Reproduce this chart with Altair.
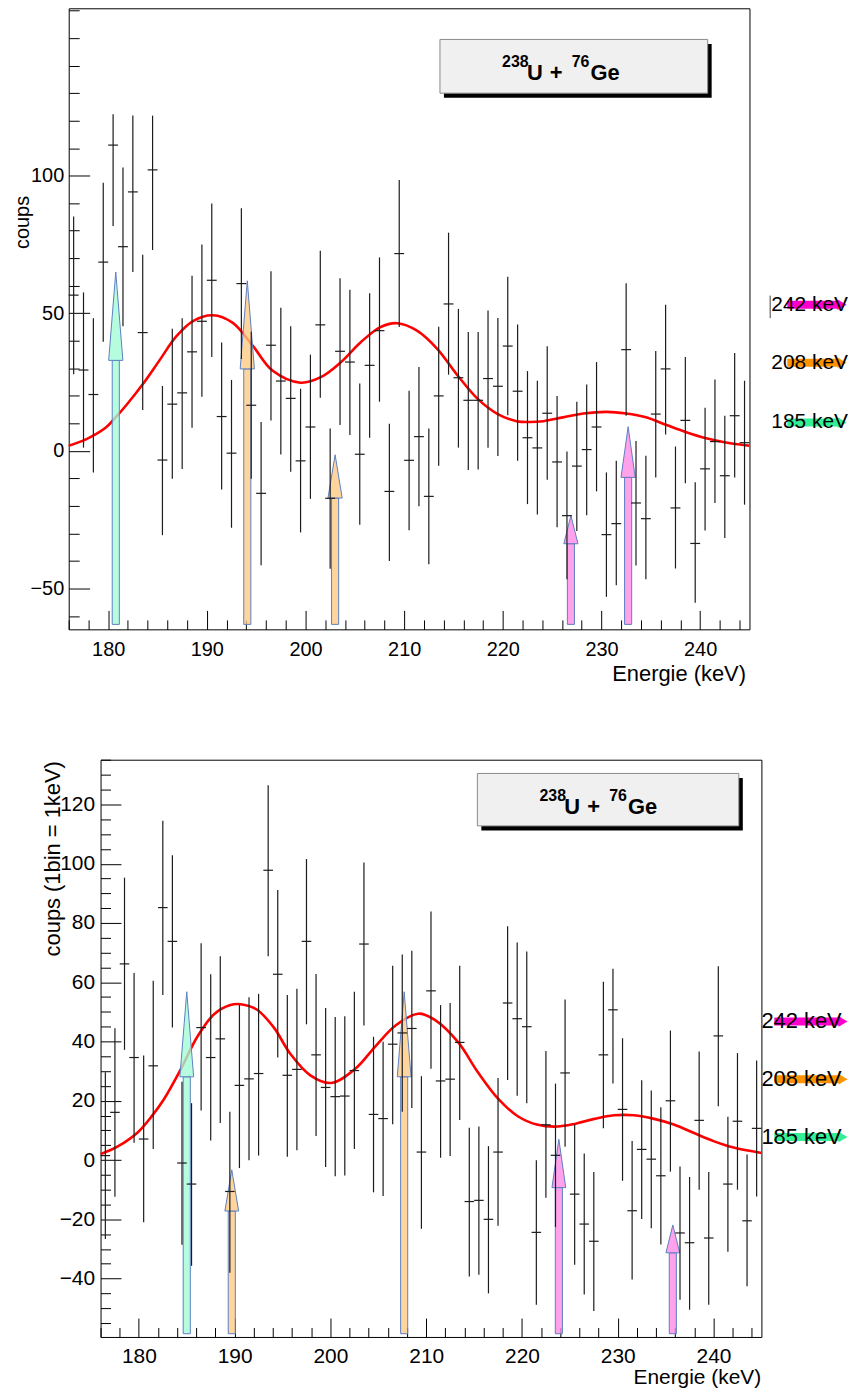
import altair as alt
import pandas as pd

FONT = "Liberation Sans"

# ---------------- data ----------------
# 1 keV bins, 176 .. 245 keV
BIN_FIRST_CENTER = 176.5
N_BINS = 69
bin_centers = [BIN_FIRST_CENTER + i for i in range(N_BINS)]

# upper spectrum: counts, upper and lower end of error bar
top_val = [56.6, 29.4, 20.5, 68.6, 111.1, 74.2, 94.1, 43.0, 102.1, -3.3,
           17.0, 21.1, 36.0, 47.1, 62.0, 12.5, -0.8, 60.8, 16.6, -15.4,
           38.4, 25.4, 19.1, -3.6, 8.7, 45.8, -17.2, 36.2, 32.3, -1.2,
           31.1, 43.7, -14.7, 71.7, -3.4, 5.2, -16.5, 20.0, 53.4, 26.6,
           18.4, 18.4, 26.3, 23.5, 38.1, 21.7, 4.8, 1.1, 13.7, -4.0,
           -23.5, -5.5, 0.5, 8.7, -30.4, -26.4, 36.8, -18.9, -24.6, 13.4,
           29.8, -20.7, 11.1, -33.6, -6.5, 3.4, -9.0, 12.8, 3.0]
top_hi = [85.2, 57.6, 48.2, 97.4, 122.3, 103.0, 121.9, 71.3, 121.8, 23.6,
          44.4, 48.2, 63.6, 75.0, 89.9, 39.4, 25.8, 88.2, 43.3, 10.5,
          65.3, 52.0, 45.3, 22.6, 35.0, 72.7, 8.2, 62.7, 58.6, 24.5,
          57.3, 70.3, 9.9, 98.4, 21.9, 30.5, 8.2, 45.1, 79.3, 51.6,
          43.2, 43.2, 51.0, 48.3, 63.3, 45.9, 29.0, 25.5, 38.0, 20.0,
          -0.2, 17.9, 24.1, 32.3, -7.8, -3.6, 60.9, 3.6, -1.7, 36.3,
          53.1, 1.6, 34.1, -11.4, 15.7, 26.0, 12.8, 35.6, 25.5]
top_lo = [27.9, 1.2, -7.8, 39.7, 81.7, 45.3, 65.0, 14.9, 73.0, -30.6,
          -10.1, -6.6, 8.4, 19.7, 34.1, -14.0, -27.9, 33.4, -10.1, -41.5,
          11.1, -1.3, -7.6, -29.6, -17.4, 19.3, -42.8, 9.4, 5.8, -26.8,
          4.8, 17.9, -40.0, 45.0, -28.8, -20.1, -41.2, -5.4, 27.7, 1.2,
          -6.9, -6.7, 1.2, -1.8, 13.0, -3.6, -19.3, -23.1, -10.5, -27.7,
          -46.6, -29.1, -23.4, -14.7, -53.0, -48.8, 12.8, -41.6, -46.6, -9.6,
          6.0, -42.7, -11.7, -55.1, -28.9, -18.9, -31.6, -9.6, -19.5]

# lower spectrum
bot_val = [1.5, 16.1, 66.2, 34.6, 7.1, 31.8, 85.2, 73.8, -1.0, -8.1,
           44.7, 34.6, 40.9, -10.6, 25.2, 27.4, 29.2, 97.8, 62.7, 28.6,
           30.6, 73.8, 35.5, 24.5, 21.4, 21.6, 30.2, 72.9, 15.4, 14.0,
           39.1, 42.9, 44.4, 2.7, 57.1, 26.7, 27.3, 39.7, -14.0, -13.6,
           -20.0, 2.7, 53.0, 47.7, 45.0, -24.4, 11.9, 1.6, 29.4, -11.5,
           -21.6, -27.4, 35.5, 50.7, 17.1, -17.1, 3.6, 0.3, -5.3, 20.0,
           -24.6, -27.9, 13.4, -26.3, 41.9, -8.1, 13.1, -20.5, 10.7]
bot_hi = [29.6, 44.5, 95.3, 63.1, 35.3, 60.5, 114.5, 102.9, 26.4, 19.2,
          73.2, 62.7, 68.8, 16.3, 52.3, 54.9, 56.1, 126.5, 91.1, 55.7,
          57.8, 101.6, 62.8, 51.3, 48.3, 48.5, 56.8, 100.4, 41.6, 39.9,
          65.6, 69.4, 70.6, 28.3, 83.9, 52.3, 53.0, 65.6, 10.9, 11.3,
          4.7, 27.7, 78.9, 73.4, 70.4, -0.1, 36.8, 25.8, 54.2, 12.0,
          2.2, -4.0, 60.2, 64.6, 41.1, 6.4, 26.9, 23.5, 17.8, 43.7,
          -2.2, -5.7, 36.6, -4.0, 65.4, 14.6, 36.1, 1.9, 33.6]
bot_lo = [-26.6, -12.4, 37.2, 5.8, -21.0, 3.7, 55.7, 44.7, -28.6, -35.7,
          16.7, 6.6, 12.5, -38.0, -2.7, -0.1, 1.5, 68.8, 34.6, 1.1,
          3.3, 45.8, 8.1, -2.3, -5.5, -5.2, 3.7, 45.4, -10.9, -12.1,
          12.1, 16.3, 17.6, -23.2, 30.8, 0.8, 1.4, 13.5, -39.3, -38.7,
          -45.0, -22.2, 27.0, 21.7, 19.2, -48.8, -12.7, -22.6, 4.5, -35.3,
          -45.4, -50.9, 10.7, 25.8, -7.0, -40.3, -19.9, -23.0, -28.5, -3.9,
          -47.1, -50.5, -10.0, -48.8, 18.2, -30.9, -10.0, -42.6, -12.3]

# fitted curves
top_curve_e = [176.0, 177.8, 179.8, 180.8, 181.85, 183.5, 185.2, 186.9, 188.6, 190.6,
               192.6, 194.6, 196.65, 199.5, 201.6, 203.6, 205.6, 207.6, 209.3, 211.3,
               213.35, 215.4, 217.4, 219.4, 221.4, 222.8, 224.1, 226.1, 228.15, 230.5,
               232.5, 234.5, 236.6, 238.6, 240.6, 242.6, 245.0]
top_curve_v = [1.9, 4.3, 8.6, 12.4, 16.7, 24.2, 32.9, 41.6, 47.2, 49.3,
               46.6, 38.5, 29.2, 24.8, 26.9, 32.3, 39.5, 45.0, 46.4, 43.7,
               37.1, 27.5, 19.1, 13.6, 10.8, 10.5, 10.8, 12.2, 13.6, 14.2,
               13.6, 12.2, 9.4, 6.8, 4.6, 3.1, 1.9]
bot_curve_e = [176.0, 177.8, 179.9, 181.25, 182.65, 184.4, 186.1, 187.85, 189.55, 190.6,
               192.3, 194.1, 195.8, 197.9, 200.1, 202.6, 204.7, 206.8, 209.2, 210.9,
               213.35, 215.4, 217.5, 219.6, 221.65, 223.7, 225.5, 227.55, 229.6, 231.7,
               233.8, 235.85, 237.9, 240.0, 242.1, 245.0]
bot_curve_v = [2.0, 4.6, 9.4, 14.4, 20.7, 30.8, 41.6, 49.2, 52.3, 52.6,
               50.8, 44.7, 35.9, 28.6, 26.0, 30.8, 38.4, 45.4, 49.4, 47.3,
               39.7, 29.6, 20.7, 14.7, 11.9, 11.3, 12.2, 13.9, 15.1, 15.1,
               13.9, 12.0, 9.2, 6.4, 4.2, 2.4]

# marker arrows: energy, tip, base of head, line family
top_arrow_e = [180.77, 194.1, 203.0, 226.9, 232.7]
top_arrow_tip = [65.0, 61.8, -1.4, -23.5, 8.8]
top_arrow_base = [32.9, 29.8, -17.1, -33.7, -9.6]
top_arrow_kind = ["185", "208", "208", "242", "242"]
bot_arrow_e = [185.0, 189.7, 207.7, 223.85, 235.75]
bot_arrow_tip = [56.8, -3.3, 56.8, 7.0, -21.9]
bot_arrow_base = [28.1, -17.2, 28.1, -9.3, -31.3]
bot_arrow_kind = ["185", "208", "208", "242", "242"]

line_labels = ["242 keV", "208 keV", "185 keV"]
line_kinds = ["242", "208", "185"]
legend_parts = ["238", "U", "+", "76", "Ge"]

ARROW_FILL = {"185": "#a2fdd6", "208": "#ffc983", "242": "#ff86e6"}
LABEL_COLOR = {"242": "#ff00cc", "208": "#ff9200", "185": "#33ef96"}

X_MAJOR = [180, 190, 200, 210, 220, 230, 240]
X_MINOR = [v for v in range(176, 246, 2) if v % 10 != 0]

one = pd.DataFrame({"k": [0]})


def tick_axis(orient, off, values, size):
    return alt.Axis(orient=orient, offset=off, values=values, ticks=True, tickSize=size,
                    tickColor="black", tickWidth=1, labels=False, domain=False,
                    grid=False, title=None)


def vrect(x0, x1, y0, y1, **kw):
    return alt.Chart(one).mark_rect(**kw).encode(
        x=alt.value(x0), x2=alt.value(x1), y=alt.value(y0), y2=alt.value(y1))


def vtext(txt, x, y, size, weight="normal", align="left", baseline="alphabetic"):
    return alt.Chart(one).mark_text(text=txt, font=FONT, fontSize=size, fontWeight=weight,
                                    align=align, baseline=baseline, color="black").encode(
        x=alt.value(x), y=alt.value(y))


def panel(val, hi, lo, ce, cv, ae, at, ab, ak, P):
    W, H = P["W"], P["H"]
    xs = alt.Scale(domain=[176, 245], nice=False, zero=False)
    ys = alt.Scale(domain=P["ydom"], nice=False, zero=False)

    pts = pd.DataFrame({"e": bin_centers, "v": val, "hi": hi, "lo": lo})
    pts["e0"] = pts["e"] - 0.5
    pts["e1"] = pts["e"] + 0.5

    ax_x = alt.Axis(orient="bottom", values=X_MAJOR, ticks=False, tickSize=0, domain=False,
                    grid=False, labelFont=FONT, labelFontSize=P["lfs"], labelColor="black",
                    labelPadding=P["xlp"], labelOverlap=False, labelFlush=False,
                    title="Energie (keV)", titleFont=FONT, titleFontSize=P["xtfs"],
                    titleFontWeight="normal", titleColor="black", titleX=P["xtx"],
                    titleY=P["xty"], titleAlign="right", titleBaseline="middle")
    ax_y = alt.Axis(orient="left", values=P["ylab"], ticks=False, tickSize=0, domain=False,
                    grid=False, labelFont=FONT, labelFontSize=P["lfs"], labelColor="black",
                    labelPadding=P["ylp"], labelOverlap=False, labelFlush=False,
                    title=P["ytitle"], titleFont=FONT, titleFontSize=P["ytfs"],
                    titleFontWeight="normal", titleColor="black", titleX=P["ytx"],
                    titleY=P["yty"], titleAngle=270, titleAlign="right",
                    titleBaseline="middle")

    curve = alt.Chart(pd.DataFrame({"e": ce, "v": cv})).mark_line(
        color="#ff0000", strokeWidth=2.6, interpolate="catmull-rom").encode(
        x=alt.X("e:Q", scale=xs, axis=tick_axis("top", -H, X_MINOR, P["xmin_len"])),
        y=alt.Y("v:Q", scale=ys, axis=tick_axis("right", -W, P["ymin"], P["ymin_len"])))

    # arrows: shaft rectangles + triangular heads
    sw, hw = P["shaft_hw"], P["head_hw"]
    shafts = pd.DataFrame({
        "x0": [c - sw for c in ae], "x1": [c + sw for c in ae],
        "y0": [P["abot"]] * len(ae), "y1": ab,
        "fill": [ARROW_FILL[k] for k in ak]})
    head_rows = []
    for i, (c, t, b, k) in enumerate(zip(ae, at, ab, ak)):
        for xx, yy in [(c - hw, b), (c, t), (c + hw, b)]:
            head_rows.append({"id": i, "x": xx, "top": yy, "base": b,
                              "fill": ARROW_FILL[k]})
    heads = pd.DataFrame(head_rows)

    shaft_l = alt.Chart(shafts).mark_rect(stroke="#5d7fc2", strokeWidth=1,
                                          fillOpacity=0.78).encode(
        x=alt.X("x0:Q", scale=xs, axis=None), x2="x1:Q",
        y=alt.Y("y0:Q", scale=ys, axis=None), y2="y1:Q",
        color=alt.Color("fill:N", scale=None))
    head_l = alt.Chart(heads).mark_area(stroke="#5d7fc2", strokeWidth=1,
                                        fillOpacity=0.78, interpolate="linear").encode(
        x=alt.X("x:Q", scale=xs, axis=None),
        y=alt.Y("top:Q", scale=ys, axis=None, stack=None), y2="base:Q",
        detail="id:N", color=alt.Color("fill:N", scale=None))

    vb = alt.Chart(pts).mark_rule(color="#1c1c1c", strokeWidth=1.2).encode(
        x=alt.X("e:Q", scale=xs, axis=ax_x),
        y=alt.Y("lo:Q", scale=ys, axis=ax_y), y2="hi:Q")
    hb = alt.Chart(pts).mark_rule(color="#1c1c1c", strokeWidth=1.2).encode(
        x=alt.X("e0:Q", scale=xs, axis=tick_axis("top", -H, X_MAJOR, P["xmaj_len"])),
        x2="e1:Q",
        y=alt.Y("v:Q", scale=ys, axis=tick_axis("right", -W, P["ymaj"], P["ymaj_len"])))

    layers = [curve, shaft_l, head_l, vb, hb]

    # legend box with shadow
    bx0, bx1, by0, by1 = P["box"]
    layers.append(vrect(bx0 + 4, bx1 + 4, by0 + 4.5, by1 + 4.5, color="black"))
    layers.append(vrect(bx0, bx1, by0, by1, fill="#f0f0f0", stroke="#8a8a8a", strokeWidth=1))
    sup_y, main_y = by0 + 28, by0 + 40.7
    offs = [62.4, 87.4, 110.4, 132.4, 151.3]
    ys_ = [sup_y, main_y, main_y, sup_y, main_y]
    sz = [16, 22, 22, 16, 22]
    for part, dx, yy, s in zip(legend_parts, offs, ys_, sz):
        layers.append(vtext(part, bx0 + dx, yy, s, weight="bold"))

    # line labels on the right
    for j, (lab, kind) in enumerate(zip(line_labels, line_kinds)):
        yy = P["lab_y"][j]
        col = LABEL_COLOR[kind]
        layers.append(alt.Chart(one).mark_rule(color=col, strokeWidth=8).encode(
            x=alt.value(P["la_x0"]), x2=alt.value(P["la_x1"]), y=alt.value(yy)))
        layers.append(alt.Chart(one).mark_point(shape="triangle-right", filled=True,
                                                color=col, size=110, opacity=1).encode(
            x=alt.value(P["la_x1"] + 2), y=alt.value(yy)))
        layers.append(vtext(lab, P["lab_x"], yy, P["lab_fs"], baseline="middle"))

    if P.get("bar"):
        x0, y0, y1 = P["bar"]
        layers.append(alt.Chart(one).mark_rule(color="#444", strokeWidth=1).encode(
            x=alt.value(x0), y=alt.value(y0), y2=alt.value(y1)))

    return alt.layer(*layers).resolve_axis(x="independent", y="independent").properties(
        width=W, height=H)


P_top = dict(
    W=684, H=624, ydom=[-64.8, 160.8], lfs=20, xlp=10, ylp=5, xtfs=22, ytfs=20,
    ytitle="coups", ytx=-46, yty=188, xtx=680, xty=44,
    ylab=[-50, 0, 50, 100], ymaj=[-50, 0, 50, 100],
    ymin=[v for v in range(-60, 161, 10) if v not in (-50, 0, 50, 100)],
    xmaj_len=19, xmin_len=9.5, ymaj_len=21, ymin_len=10.5,
    abot=-63.0, shaft_hw=0.36, head_hw=0.72,
    box=(373, 642, 31.3, 85.3),
    lab_x=706, lab_y=[297.8, 356.2, 416.2], la_x0=722, la_x1=775, lab_fs=21,
    bar=(704.8, 288.7, 311.3),
)
P_bot = dict(
    W=664, H=580, ydom=[-59.7, 135.1], lfs=21, xlp=9, ylp=6, xtfs=21, ytfs=22,
    ytitle="coups (1bin = 1keV)", ytx=-48.7, yty=1, xtx=663.3, xty=41,
    ylab=[-40, -20, 0, 20, 40, 60, 80, 100, 120], ymaj=[-40, -20, 0, 20, 40, 60, 80, 100, 120],
    ymin=[v for v in range(-55, 136, 5) if v % 20 != 0],
    xmaj_len=19, xmin_len=9.5, ymaj_len=20.5, ymin_len=10,
    abot=-58.6, shaft_hw=0.37, head_hw=0.72,
    box=(378.6, 641.3, 13.8, 66.5),
    lab_x=664, lab_y=[263, 321, 379], la_x0=677, la_x1=744, lab_fs=22,
)

top = panel(top_val, top_hi, top_lo, top_curve_e, top_curve_v,
            top_arrow_e, top_arrow_tip, top_arrow_base, top_arrow_kind, P_top)
bot = panel(bot_val, bot_hi, bot_lo, bot_curve_e, bot_curve_v,
            bot_arrow_e, bot_arrow_tip, bot_arrow_base, bot_arrow_kind, P_bot)


def spacer(w):
    return alt.Chart(one).mark_rule(opacity=0).encode(
        x=alt.value(0), x2=alt.value(w), y=alt.value(0)).properties(
        width=w, height=1, view=alt.ViewBackground(stroke="transparent"))


chart = alt.vconcat(
    alt.hconcat(spacer(2), top, spacing=0),
    alt.hconcat(spacer(30), bot, spacing=0),
    spacing=74,
).properties(padding={"left": 0, "top": -4, "right": 0, "bottom": 0}).configure_view(
    stroke="black", strokeWidth=1)

chart.save("out.html", embed_options={"renderer": "svg", "actions": False})
